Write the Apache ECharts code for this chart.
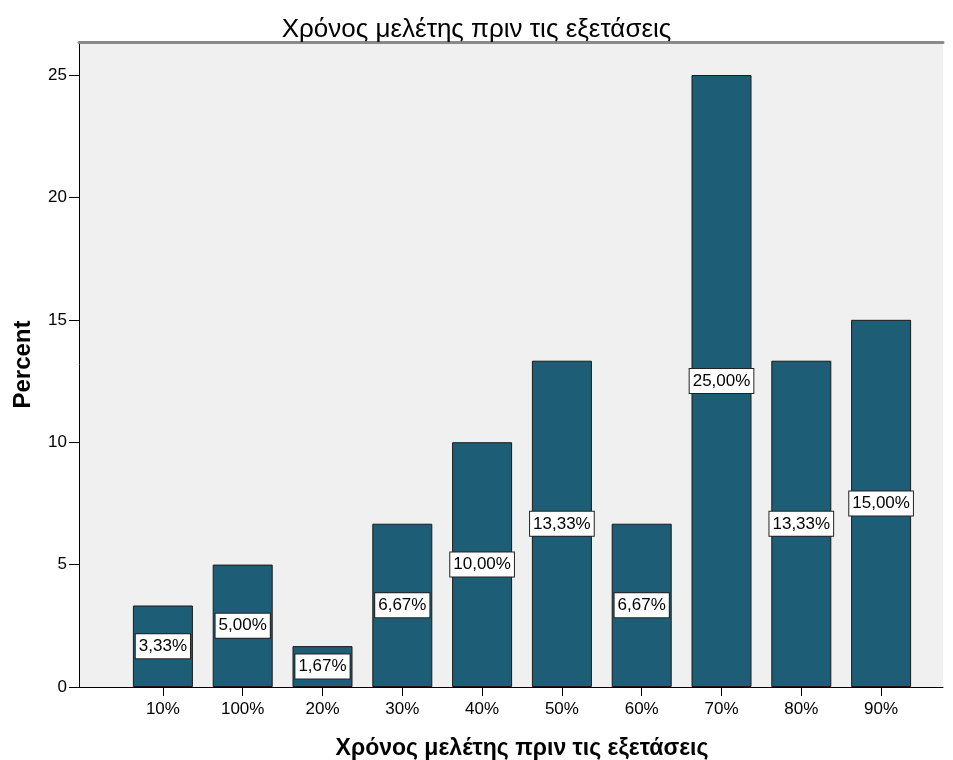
<!DOCTYPE html>
<html><head><meta charset="utf-8">
<script src="https://cdn.jsdelivr.net/npm/echarts@6/dist/echarts.min.js"></script>
<style>html,body{margin:0;padding:0;background:#fff}#c{width:953px;height:760px}</style>
</head><body><div id="c"></div>
<script>
const categories = ['10%','100%','20%','30%','40%','50%','60%','70%','80%','90%'];
const percentValues = [3.33, 5.00, 1.67, 6.67, 10.00, 13.33, 6.67, 25.00, 13.33, 15.00];
const yTicks = [0, 5, 10, 15, 20, 25];

const font = 'Arial, "Liberation Sans", sans-serif';
const yMax = 26.35;
const chart = echarts.init(document.getElementById('c'));
chart.setOption({
  animation: false,
  title: {
    text: 'Χρόνος μελέτης πριν τις εξετάσεις',
    left: 'center', top: 12,
    textStyle: {fontFamily: font, fontSize: 26, fontWeight: 'normal', color: '#000'}
  },
  grid: [
    {left: 79, right: 10, top: 42, bottom: 73, show: true, backgroundColor: '#f0f0f0', borderWidth: 0, outerBoundsMode: 'none', containLabel: false},
    {left: 123, right: 32, top: 42, bottom: 73, outerBoundsMode: 'none', containLabel: false}
  ],
  xAxis: [
    {gridIndex: 0, type: 'value', min: 0, max: 1, show: true, position: 'bottom',
      axisLine: {show: true, onZero: false, lineStyle: {color: '#000', width: 1}},
      axisTick: {show: false}, axisLabel: {show: false}, splitLine: {show: false}},
    {gridIndex: 0, type: 'value', min: 0, max: 1, position: 'top',
      axisLine: {show: true, onZero: false, lineStyle: {color: '#8a8a8a', width: 3}},
      axisTick: {show: false}, axisLabel: {show: false}, splitLine: {show: false}},
    {gridIndex: 1, type: 'category', data: categories, position: 'bottom',
      axisLine: {show: false}, axisTick: {show: true, alignWithLabel: true, length: 9, lineStyle: {color: '#000'}},
      axisLabel: {fontFamily: font, fontSize: 17, color: '#000', margin: 14},
      name: 'Χρόνος μελέτης πριν τις εξετάσεις', nameLocation: 'middle', nameGap: 50,
      nameTextStyle: {fontFamily: font, fontSize: 23, fontWeight: 'bold', color: '#000'}}
  ],
  yAxis: [
    {gridIndex: 0, type: 'value', min: 0, max: yMax,
      axisLine: {show: true, lineStyle: {color: '#000'}},
      axisTick: {show: true, length: 10, lineStyle: {color: '#000'}, customValues: yTicks},
      axisLabel: {fontFamily: font, fontSize: 17, color: '#000', margin: 12, customValues: yTicks},
      splitLine: {show: false},
      name: 'Percent', nameLocation: 'middle', nameGap: 44,
      nameTextStyle: {fontFamily: font, fontSize: 24, fontWeight: 'bold', color: '#000'}},
    {gridIndex: 1, type: 'value', min: 0, max: yMax, show: false}
  ],
  series: [{
    type: 'bar', xAxisIndex: 2, yAxisIndex: 1,
    data: percentValues, barWidth: 60,
    itemStyle: {color: '#1d5e76', borderColor: '#1a1a1a', borderWidth: 1},
    label: {
      show: true, position: 'inside',
      formatter: p => p.value.toFixed(2).replace('.', ',') + '%',
      fontFamily: font, fontSize: 17, color: '#000',
      backgroundColor: '#fff', borderColor: '#222', borderWidth: 1, padding: [4, 3, 3, 3]
    }
  }]
});
</script></body></html>
